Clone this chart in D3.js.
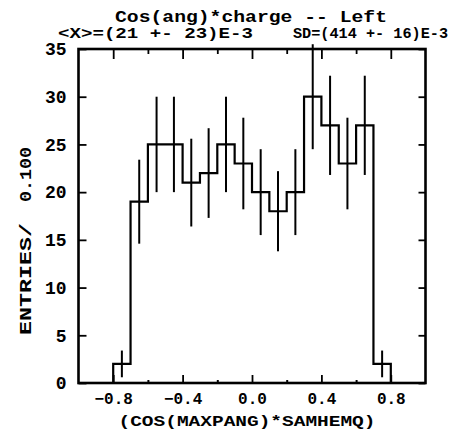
<!DOCTYPE html>
<html>
<head>
<meta charset="utf-8">
<title>Cos(ang)*charge -- Left</title>
<style>
  body { margin: 0; background: #fff; }
  text { font-family: "Liberation Mono", "DejaVu Sans Mono", monospace; font-weight: bold; fill: #000; }
</style>
</head>
<body>
<svg width="450" height="437"></svg>
<script src="https://d3js.org/d3.v7.min.js"></script>
<script>
// histogram bins (lower edge, width 0.1) and contents
var binStart = [-0.8, -0.7, -0.6, -0.5, -0.4, -0.3, -0.2, -0.1, 0.0, 0.1, 0.2, 0.3, 0.4, 0.5, 0.6, 0.7];
var entries  = [2, 19, 25, 25, 21, 22, 25, 23, 20, 18, 20, 30, 27, 23, 27, 2];
var errors   = [1.4, 4.4, 5.0, 5.0, 4.6, 4.7, 5.0, 4.8, 4.5, 4.2, 4.5, 5.5, 5.2, 4.8, 5.2, 1.4];
var binWidth = 0.1;

var xMajor = [-0.8, -0.4, 0.0, 0.4, 0.8];
var xMinor = [-0.6, -0.2, 0.2, 0.6];
var yTicks = [0, 5, 10, 15, 20, 25, 30, 35];

var svg = d3.select("svg");

var x = d3.scaleLinear().domain([-1, 1]).range([78.5, 425.5]);
var y = d3.scaleLinear().domain([0, 35]).range([383, 49]);

// titles
svg.append("text")
    .attr("x", 251).attr("y", 22)
    .attr("text-anchor", "middle")
    .attr("font-size", 17)
    .attr("textLength", 272).attr("lengthAdjust", "spacingAndGlyphs")
    .text("Cos(ang)*charge -- Left");

var stats = svg.append("text")
    .attr("y", 37.5)
    .attr("font-size", 14);
stats.append("tspan").attr("x", 58)
    .attr("textLength", 195).attr("lengthAdjust", "spacingAndGlyphs")
    .text("<X>=(21 +- 23)E-3");
stats.append("tspan").attr("x", 293)
    .attr("textLength", 155).attr("lengthAdjust", "spacingAndGlyphs")
    .text("SD=(414 +- 16)E-3");

// axes, ticks pointing inward
var gx = svg.append("g").attr("transform", "translate(0," + y(0) + ")")
    .call(d3.axisBottom(x).tickValues(xMajor).tickSize(-8).tickPadding(10)
        .tickFormat(d3.format(".1f")));
gx.select(".domain").remove();
gx.selectAll(".tick line").attr("stroke-width", 1.8);
gx.selectAll("text").attr("font-size", 16).attr("font-family", null);

svg.append("g").attr("transform", "translate(0," + y(0) + ")")
    .call(d3.axisBottom(x).tickValues(xMinor).tickSize(-3).tickFormat(""))
    .call(function(g) { g.select(".domain").remove(); g.selectAll("line").attr("stroke-width", 2); });

svg.append("g").attr("transform", "translate(0," + y(35) + ")")
    .call(d3.axisTop(x).tickValues(xMajor).tickSize(-10).tickFormat(""))
    .call(function(g) { g.select(".domain").remove(); g.selectAll("line").attr("stroke-width", 1.8); });

svg.append("g").attr("transform", "translate(0," + y(35) + ")")
    .call(d3.axisTop(x).tickValues(xMinor).tickSize(-5).tickFormat(""))
    .call(function(g) { g.select(".domain").remove(); g.selectAll("line").attr("stroke-width", 1.8); });

var gy = svg.append("g").attr("transform", "translate(" + x(-1) + ",0)")
    .call(d3.axisLeft(y).tickValues(yTicks).tickSize(-8).tickPadding(12));
gy.select(".domain").remove();
gy.selectAll(".tick line").attr("stroke-width", 1.8);
gy.selectAll("text").attr("font-size", 18).attr("font-family", null);

svg.append("g").attr("transform", "translate(" + x(1) + ",0)")
    .call(d3.axisRight(y).tickValues(yTicks).tickSize(-7).tickFormat(""))
    .call(function(g) { g.select(".domain").remove(); g.selectAll("line").attr("stroke-width", 1.8); });

// frame
svg.append("rect")
    .attr("x", x(-1)).attr("y", y(35))
    .attr("width", x(1) - x(-1)).attr("height", y(0) - y(35))
    .attr("fill", "none").attr("stroke", "#000").attr("stroke-width", 2.6);

// axis titles
svg.append("text")
    .attr("x", x(0) - 5).attr("y", 426)
    .attr("text-anchor", "middle")
    .attr("font-size", 15)
    .attr("textLength", 257).attr("lengthAdjust", "spacingAndGlyphs")
    .text("(COS(MAXPANG)*SAMHEMQ)");

var ylab = svg.append("text")
    .attr("transform", "translate(31,0) rotate(-90)")
    .attr("font-size", 16);
ylab.append("tspan").attr("x", -335)
    .attr("textLength", 112).attr("lengthAdjust", "spacingAndGlyphs")
    .text("ENTRIES/");
ylab.append("tspan").attr("x", -202)
    .attr("textLength", 55).attr("lengthAdjust", "spacingAndGlyphs")
    .text("0.100");

// outline histogram
var pts = [[binStart[0], 0]];
binStart.forEach(function(lo, i) {
  pts.push([lo, entries[i]]);
  pts.push([lo + binWidth, entries[i]]);
});
pts.push([binStart[binStart.length - 1] + binWidth, 0]);

svg.append("path")
    .datum(pts)
    .attr("fill", "none")
    .attr("stroke", "#000")
    .attr("stroke-width", 2.2)
    .attr("d", d3.line().x(function(d) { return x(d[0]); }).y(function(d) { return y(d[1]); }));

// error bars at bin centres
svg.append("g").selectAll("line")
  .data(binStart)
  .enter().append("line")
    .attr("x1", function(d) { return x(d + binWidth / 2); })
    .attr("x2", function(d) { return x(d + binWidth / 2); })
    .attr("y1", function(d, i) { return y(entries[i] - errors[i]); })
    .attr("y2", function(d, i) { return y(entries[i] + errors[i]); })
    .attr("stroke", "#000")
    .attr("stroke-width", 2);
</script>
</body>
</html>
